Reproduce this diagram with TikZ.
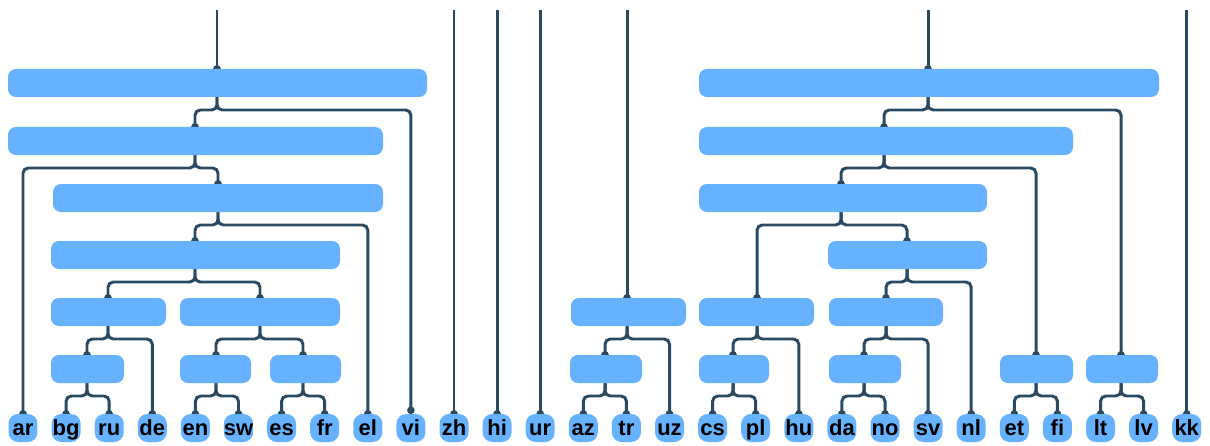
\documentclass[tikz,border=0pt]{standalone}
\usepackage{fontspec}
\setmainfont{Liberation Sans}
\usetikzlibrary{fit,arrows.meta}

\definecolor{barblue}{HTML}{66B2FF}
\definecolor{linkblue}{HTML}{2A4A62}

\pgfdeclarelayer{background}
\pgfsetlayers{background,main}

\tikzset{
  bar/.style={fill=barblue, rounded corners=4.5pt, inner sep=0pt, outer sep=0pt},
  leaf/.style={bar, rounded corners=5.5pt, minimum width=0.58cm, minimum height=0.56cm,
    font=\fontsize{12.5}{14}\selectfont\bfseries, text height=8.8pt, text depth=0pt},
  link/.style={draw=linkblue, line width=1.7pt, rounded corners=3pt,
    -{Circle[length=4.2pt]}, shorten >=-2pt},
}

\begin{document}
\begin{tikzpicture}[x=0.02cm, y=-0.02cm]
  \useasboundingbox (0,0) rectangle (1210,446);
  \coordinate (top) at (0,10);

  % languages along the bottom
  \foreach \lang [count=\i from 0] in {ar,bg,ru,de,en,sw,es,fr,el,vi,zh,hi,ur,az,tr,uz,cs,pl,hu,da,no,sv,nl,et,fi,lt,lv,kk}{
    \node[leaf] (\lang) at (23+43.1*\i,428) {\lang};
    \coordinate (\lang-in) at (\lang.north);
  }

  % merge bars: name/left/top/right/port
  \foreach \n/\xa/\ya/\xb/\px in {
      L1/8/69/427/217, L2/8/127/383/195, L3/53/184/383/218, L4/51/241/340/195,
      L5a/51/298/166/108, L5b/180/298/340/260,
      L6a/51/355/124/87, L6b/180/355/251/216, L6c/270/355/341/303,
      M5/571/298/686/627, M6/570/355/642/605,
      R1/699/69/1159/928, R2/699/127/1073/884, R3/699/184/987/841, R4/828/241/987/907,
      R5a/699/298/814/757, R5b/829/298/943/886,
      R6a/699/355/769/733, R6b/829/355/901/864, R6c/1000/355/1073/1036, R6d/1086/355/1158/1121}{
    \node[bar, fit={(\xa,\ya) (\xb,\ya+28)}] (\n) {};
    \coordinate (\n-in) at (\px,\ya);
  }

  \begin{pgfonlayer}{background}
    % inputs from the top
    \foreach \n in {L1,zh,hi,ur,M5,R1,kk}
      \draw[link] (\n-in |- top) -- (\n-in);
    % parent -> child
    \foreach \a/\b in {L1/L2, L2/ar, L2/L3, L3/L4, L3/el, L4/L5a, L4/L5b,
        L5a/L6a, L5a/de, L5b/L6b, L5b/L6c, L6a/bg, L6a/ru, L6b/en, L6b/sw,
        L6c/es, L6c/fr, M5/M6, M5/uz, M6/az, M6/tr,
        R1/R2, R1/R6d, R2/R3, R2/R6c, R3/R5a, R3/R4, R4/R5b, R4/nl,
        R5a/R6a, R5a/hu, R5b/R6b, R5b/sv, R6a/cs, R6a/pl, R6b/da, R6b/no,
        R6c/et, R6c/fi, R6d/lt, R6d/lv}
      \draw[link] (\a.south -| \a-in) -- ++(0,13) -| (\b-in);
    \draw[link, shorten >=0pt] (L1.south -| L1-in) -- ++(0,13) -| (vi-in);
  \end{pgfonlayer}
\end{tikzpicture}
\end{document}
